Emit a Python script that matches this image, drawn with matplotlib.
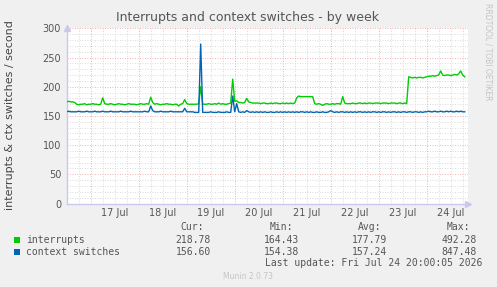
import numpy as np
import matplotlib
matplotlib.use("Agg")
import matplotlib.pyplot as plt
from matplotlib.patches import Rectangle

# ---- data (hourly samples starting 16 Jul 12:00) ----
interrupts = [
    174, 175, 174, 174, 173, 170, 169, 170, 170, 171, 169, 170,
    170, 171, 170, 170, 169, 170, 181, 171, 170, 170, 171, 170, 169, 170, 171, 170, 170, 169, 170, 171, 170, 170, 170, 169,
    170, 171, 170, 170, 171, 170, 182, 173, 170, 171, 170, 169, 170, 170, 171, 170, 170, 169, 170, 170, 167, 170, 171, 178,
    171, 170, 170, 170, 170, 170, 171, 200, 170, 170, 170, 171, 170, 170, 171, 170, 172, 170, 171, 170, 170, 171, 172, 213,
    175, 176, 173, 173, 172, 173, 180, 174, 173, 172, 172, 172, 172, 171, 172, 172, 171, 171, 172, 171, 172, 172, 171, 171,
    172, 171, 172, 171, 172, 171, 172, 181, 184, 183, 183, 183, 183, 183, 183, 183, 171, 170, 171, 170, 168, 170, 171, 170,
    170, 171, 170, 171, 171, 170, 183, 172, 171, 171, 171, 172, 171, 171, 172, 172, 171, 172, 171, 172, 172, 171, 172, 172,
    172, 171, 172, 172, 172, 171, 172, 172, 172, 171, 172, 172, 171, 172, 171, 217, 216, 215, 216, 215, 216, 216, 215, 216,
    217, 218, 218, 219, 218, 219, 220, 227, 220, 219, 220, 220, 219, 220, 221, 220, 222, 227, 220, 217,
]
context_switches = [
    157, 158, 157, 157, 157, 157, 158, 157, 157, 157, 158, 157,
    157, 157, 158, 157, 157, 157, 158, 157, 157, 157, 158, 157, 157, 157, 157, 158, 157, 157, 157, 157, 158, 157, 157, 157,
    157, 157, 157, 158, 157, 157, 167, 159, 157, 157, 157, 158, 157, 157, 157, 157, 158, 157, 157, 157, 157, 157, 157, 163,
    157, 157, 157, 157, 156, 156, 156, 273, 156, 156, 156, 156, 157, 156, 156, 156, 157, 156, 156, 156, 157, 156, 156, 184,
    157, 171, 157, 156, 157, 156, 159, 157, 156, 157, 156, 157, 156, 157, 156, 157, 156, 156, 157, 156, 156, 157, 156, 157,
    156, 157, 156, 157, 156, 157, 156, 157, 156, 157, 157, 156, 157, 156, 157, 156, 156, 157, 156, 156, 157, 156, 156, 157,
    159, 157, 156, 157, 156, 157, 157, 156, 157, 156, 157, 156, 157, 156, 157, 157, 156, 157, 156, 157, 156, 157, 157, 156,
    157, 156, 157, 157, 156, 157, 156, 157, 157, 156, 157, 156, 157, 157, 156, 157, 157, 156, 157, 157, 156, 157, 156, 157,
    157, 158, 157, 157, 158, 157, 157, 158, 157, 157, 158, 157, 158, 157, 157, 158, 157, 158, 157, 157,
]
start_hour = 12  # hours after 16 Jul 00:00
day_labels = ["17 Jul", "18 Jul", "19 Jul", "20 Jul", "21 Jul", "22 Jul", "23 Jul", "24 Jul"]
y_ticks = [0, 50, 100, 150, 200, 250, 300]

series_names = ["interrupts", "context switches"]
cur_vals = ["218.78", "156.60"]
min_vals = ["164.43", "154.38"]
avg_vals = ["177.79", "157.24"]
max_vals = ["492.28", "847.48"]
colors = ["#00CC00", "#0066B3"]

W, H = 497, 287
fig = plt.figure(figsize=(W / 100, H / 100), dpi=100, facecolor="#F0F0F0")
ax = fig.add_axes([66.7 / W, 1 - 203.5 / H, (467.7 - 66.7) / W, (203.5 - 28.3) / H])
ax.set_facecolor("white")

x_int = start_hour + np.arange(len(interrupts))
x_ctx = start_hour + np.arange(len(context_switches))

ax.set_xlim(start_hour, start_hour + (467.7 - 66.7) / 2.0)
ax.set_ylim(0, 300)

# grid
for yv in np.arange(10, 300, 10):
    if yv % 50:
        ax.axhline(yv, color="#cfcfcf", lw=0.6, ls=(0, (1, 2)), zorder=1)
for xv in np.arange(18, 213, 6):
    if xv % 24:
        ax.axvline(xv, color="#cfcfcf", lw=0.6, ls=(0, (1, 2)), zorder=1)
for yv in y_ticks[1:]:
    ax.axhline(yv, color="#e89a9a", lw=0.6, ls=(0, (1, 2)), zorder=1.5)
for i in range(len(day_labels)):
    ax.axvline(24 * (i + 1), color="#e89a9a", lw=0.6, ls=(0, (1, 2)), zorder=1.5)

ax.plot(x_int, interrupts, color=colors[0], lw=1.0, zorder=3)
ax.plot(x_ctx, context_switches, color=colors[1], lw=1.0, zorder=4)

for s in ["top", "right"]:
    ax.spines[s].set_visible(False)
for s in ["left", "bottom"]:
    ax.spines[s].set_color("#c8c8f0")
    ax.spines[s].set_linewidth(1.0)

ax.set_yticks(y_ticks)
ax.set_yticklabels([str(v) for v in y_ticks])
ax.set_xticks([24 * (i + 1) + 12 for i in range(len(day_labels))])
ax.set_xticklabels(day_labels)
ax.tick_params(axis="both", length=0, labelsize=7, colors="#555555", pad=3)
ax.tick_params(axis="y", pad=4)

# axis arrows
ax.plot([0], [1.0], marker="^", color="#c8c8f0", ms=5, transform=ax.transAxes, clip_on=False, zorder=5)
ax.plot([1.0], [0], marker=">", color="#c8c8f0", ms=5, transform=ax.transAxes, clip_on=False, zorder=5)

fig.text(248 / W, 1 - 18 / H, "Interrupts and context switches - by week", ha="center", va="center",
         fontsize=9.0, color="#555555")
fig.text(10 / W, 1 - 115 / H, "interrupts & ctx switches / second", rotation=90, ha="center", va="center",
         fontsize=8.0, color="#444444")
fig.text(488 / W, 1 - 52 / H, "RRDTOOL / TOBI OETIKER", rotation=270, ha="center", va="center",
         fontsize=5.5, color="#c4c4c4")

mono = "DejaVu Sans Mono"
fs = 7
headers = ["Cur:", "Min:", "Avg:", "Max:"]
head_x = [204, 293.5, 381, 470]
val_x = [210.7, 299.3, 386.7, 476.7]
cols = [cur_vals, min_vals, avg_vals, max_vals]
for hx, h in zip(head_x, headers):
    fig.text(hx / W, 1 - 227.5 / H, h, ha="right", va="center", fontsize=fs, family=mono, color="#555555")
row_y = [240, 251.7]
for r, (name, c) in enumerate(zip(series_names, colors)):
    fig.patches.append(Rectangle((14 / W, 1 - (row_y[r] + 3) / H), 6 / W, 6 / H, transform=fig.transFigure,
                                 facecolor=c, edgecolor="none"))
    fig.text(26.5 / W, 1 - row_y[r] / H, name, ha="left", va="center", fontsize=fs, family=mono, color="#555555")
    for vx, col in zip(val_x, cols):
        fig.text(vx / W, 1 - row_y[r] / H, col[r], ha="right", va="center", fontsize=fs, family=mono, color="#555555")
fig.text(482.7 / W, 1 - 263 / H, "Last update: Fri Jul 24 20:00:05 2026", ha="right", va="center", fontsize=fs,
         family=mono, color="#555555")
fig.text(248 / W, 1 - 276.5 / H, "Munin 2.0.73", ha="center", va="center", fontsize=5.5, color="#c4c4c4")

fig.savefig("out.png", dpi=100, facecolor=fig.get_facecolor())
